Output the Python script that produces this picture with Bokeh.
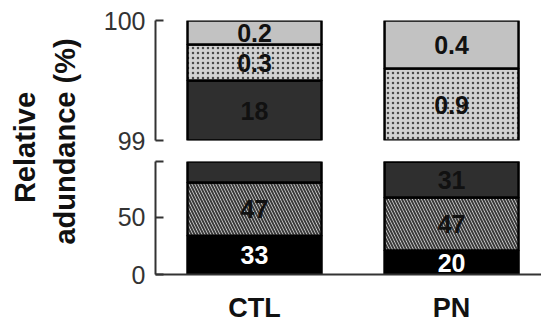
import math
from bokeh.plotting import figure
from bokeh.layouts import row, column
from bokeh.models import Range1d, FixedTicker, ColumnDataSource
from bokeh.core.properties import value
from bokeh.embed import file_html
from bokeh.resources import INLINE

# ---------------- data ----------------
categories = ["CTL", "PN"]
ctl_values = [34.0, 46.5, 19.0, 0.3, 0.2]
pn_values = [21.0, 46.5, 31.2, 0.9, 0.4]
ctl_labels = ["33", "47", "18", "0.3", "0.2"]
pn_labels = ["20", "47", "31", "0.9", "0.4"]
bottom_ticks = [0, 50, 99]
top_ticks = [99, 100]
y_title = ["Relative", "adundance (%)"]

BREAK = 99.0
TOP_MAX = 100.0

FONT = "Liberation Sans"

# segment styles (bottom -> top)
styles = [
    dict(fill_color="#000000", hatch_pattern=None, text_color="white"),
    dict(fill_color="#e4e4e4", hatch_pattern="left_diagonal_line", hatch_color="#3a3a3a",
         hatch_scale=6, hatch_weight=2, text_color="#111111"),
    dict(fill_color="#2f2f2f", hatch_pattern=None, text_color="#111111"),
    dict(fill_color="#d2d2d2", hatch_pattern="dot", hatch_color="#4a4a4a",
         hatch_scale=5, hatch_weight=1.6, text_color="#111111"),
    dict(fill_color="#c2c2c2", hatch_pattern=None, text_color="#111111"),
]

xs = [1, 2]
x_range = Range1d(0.4975, 2.4565)
BAR_W = 0.68

TOP_FRAME_PX = 120.0
BOT_FRAME_PX = 121.0


def make_fig(height, ylo, yhi, bt, bb, ticks, overrides, with_x):
    p = figure(width=441, height=height, x_range=x_range, y_range=Range1d(ylo, yhi),
               output_backend="svg", toolbar_location=None,
               x_axis_location="below" if with_x else None,
               min_border_left=55, min_border_right=0, min_border_top=bt,
               min_border_bottom=bb)
    p.outline_line_color = None
    p.grid.visible = False
    p.background_fill_color = "white"
    p.border_fill_color = "white"
    ya = p.yaxis[0]
    ya.ticker = FixedTicker(ticks=ticks)
    ya.major_label_overrides = overrides
    ya.axis_line_color = "#333333"
    ya.axis_line_width = 2
    ya.major_tick_line_color = "#333333"
    ya.major_tick_line_width = 2
    ya.major_tick_in = 8
    ya.major_tick_out = 0
    ya.minor_tick_line_color = None
    ya.major_label_standoff = 10
    ya.major_label_text_font = FONT
    ya.major_label_text_font_size = "25px"
    ya.major_label_text_color = "#333333"
    if with_x:
        xa = p.xaxis[0]
        xa.ticker = FixedTicker(ticks=xs)
        xa.major_label_overrides = {x: c for x, c in zip(xs, categories)}
        xa.axis_line_color = "#333333"
        xa.axis_line_width = 2
        xa.major_tick_line_color = None
        xa.minor_tick_line_color = None
        xa.major_label_standoff = 12
        xa.major_label_text_font = FONT
        xa.major_label_text_font_style = "bold"
        xa.major_label_text_font_size = "27px"
        xa.major_label_text_color = "#111111"
    return p


top = make_fig(158, BREAK, TOP_MAX, 20, 18, top_ticks, {}, False)
bot = make_fig(167, 0, BREAK, 3, 43, bottom_ticks, {99: ""}, True)

panels = [(bot, 0.0, BREAK, BOT_FRAME_PX / BREAK), (top, BREAK, TOP_MAX, TOP_FRAME_PX / (TOP_MAX - BREAK))]

all_values = [ctl_values, pn_values]
all_labels = [ctl_labels, pn_labels]

label_data = {id(bot): dict(x=[], y=[], text=[], color=[]), id(top): dict(x=[], y=[], text=[], color=[])}

for si, st in enumerate(styles):
    for p, lo, hi, pxu in panels:
        bx, bb_, bt_ = [], [], []
        for ci, vals in enumerate(all_values):
            b = sum(vals[:si])
            t = b + vals[si]
            vb, vt = max(b, lo), min(t, hi)
            if vt > vb:
                bx.append(xs[ci]); bb_.append(vb); bt_.append(vt)
        if not bx:
            continue
        kw = dict(fill_color=st["fill_color"], line_color="black", line_width=2.5)
        if st["hatch_pattern"]:
            kw.update(hatch_pattern=st["hatch_pattern"], hatch_color=st["hatch_color"],
                      hatch_scale=st["hatch_scale"], hatch_weight=st["hatch_weight"])
        p.vbar(x=bx, bottom=bb_, top=bt_, width=BAR_W, **kw)

# labels: put each label in the panel where the segment's visible part is tallest
for ci, vals in enumerate(all_values):
    for si, st in enumerate(styles):
        b = sum(vals[:si])
        t = b + vals[si]
        best = None
        for p, lo, hi, pxu in panels:
            vb, vt = max(b, lo), min(t, hi)
            px = (vt - vb) * pxu
            if px > 0 and (best is None or px > best[0]):
                best = (px, p, (vb + vt) / 2)
        if best is None:
            continue
        d = label_data[id(best[1])]
        d["x"].append(xs[ci]); d["y"].append(best[2])
        d["text"].append(all_labels[ci][si]); d["color"].append(st["text_color"])

for p in (top, bot):
    src = ColumnDataSource(label_data[id(p)])
    p.text(x="x", y="y", text="text", source=src, text_color="color",
           text_font=value(FONT), text_font_style="bold", text_font_size="25px",
           text_align="center", text_baseline="middle")

# y-axis title in its own narrow panel
tf = figure(width=100, height=325, x_range=Range1d(0, 100), y_range=Range1d(0, 325),
            output_backend="svg", toolbar_location=None, x_axis_location=None,
            y_axis_location=None, min_border=0)
tf.outline_line_color = None
tf.grid.visible = False
tf.text(x=[24, 64], y=[325 - 147, 325 - 141], text=y_title, angle=math.pi / 2,
        text_font=value(FONT), text_font_style="bold", text_font_size="29px",
        text_color="#111111", text_align="center", text_baseline="middle")

layout = row(tf, column(top, bot, spacing=0), spacing=0)
open("out.html", "w").write(file_html(layout, INLINE))
